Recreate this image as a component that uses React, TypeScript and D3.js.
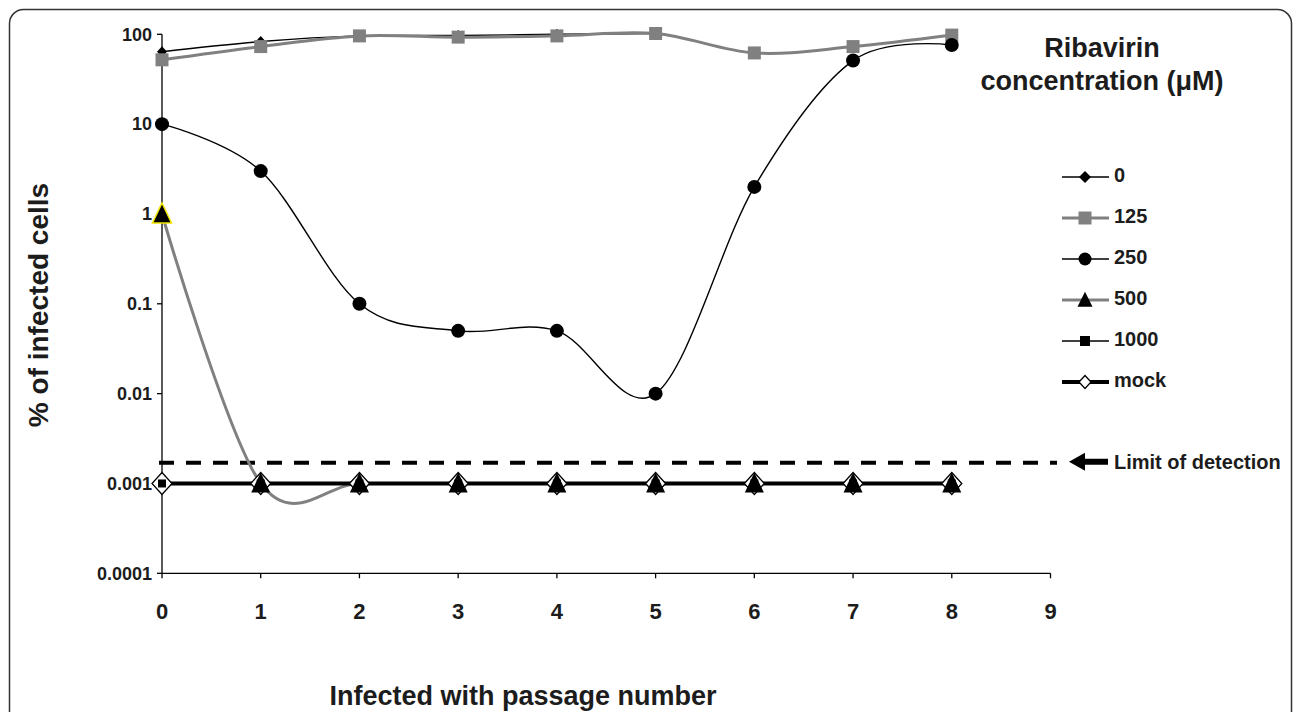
import * as d3 from "d3";

// passage numbers and % infected cells per ribavirin concentration
const passages = [0, 1, 2, 3, 4, 5, 6, 7, 8];
const conc0 = [64, 83, 96, 97, 100, 102];
const conc125 = [52, 73, 96, 93, 96, 102, 62, 73, 98];
const conc250 = [10, 3, 0.1, 0.05, 0.05, 0.01, 2, 51, 76];
const conc500 = [1, 0.001, 0.001, 0.001, 0.001, 0.001, 0.001, 0.001, 0.001];
const conc1000 = [0.001, 0.001, 0.001, 0.001, 0.001, 0.001, 0.001, 0.001, 0.001];
const mock = [0.001, 0.001, 0.001, 0.001, 0.001, 0.001, 0.001, 0.001, 0.001];
const seriesNames = ["0", "125", "250", "500", "1000", "mock"];
const seriesValues = [conc0, conc125, conc250, conc500, conc1000, mock];
const limitOfDetection = 0.0017;

const xTicks = [0, 1, 2, 3, 4, 5, 6, 7, 8, 9];
const yTicks = [0.0001, 0.001, 0.01, 0.1, 1, 10, 100];
const yTickLabels = ["0.0001", "0.001", "0.01", "0.1", "1", "10", "100"];

const W = 1293;
const H = 712;
const FONT = "Arial, 'Liberation Sans', sans-serif";
const INK = "#1c1c1c";
const GRAY = "#808080";

type Style = {
  stroke: string;
  width: number;
  marker: string;
  w: number;
  h: number;
  fill: string;
  mstroke: string;
  lw: number;
  lh: number;
};

const styles: Record<string, Style> = {
  "0": { stroke: "#000", width: 1.4, marker: "diamond", w: 10, h: 11, fill: "#000", mstroke: "none", lw: 12, lh: 12 },
  "125": { stroke: GRAY, width: 3, marker: "square", w: 13, h: 13, fill: GRAY, mstroke: "none", lw: 13, lh: 13 },
  "250": { stroke: "#000", width: 1.4, marker: "circle", w: 14, h: 14, fill: "#000", mstroke: "none", lw: 13, lh: 13 },
  "500": { stroke: GRAY, width: 3, marker: "triangle", w: 19, h: 20, fill: "#000", mstroke: "none", lw: 15, lh: 15 },
  "1000": { stroke: "#000", width: 1.4, marker: "square", w: 8, h: 8, fill: "#000", mstroke: "none", lw: 10, lh: 10 },
  mock: { stroke: "#000", width: 4, marker: "diamond", w: 20, h: 22, fill: "#fff", mstroke: "#000", lw: 12, lh: 13 },
};

// draw order of the markers (as in the original figure)
const markerOrder = ["mock", "1000", "0", "125", "250", "500"];

function markerPath(kind: string, w: number, h: number) {
  if (kind === "square") return `M${-w / 2},${-h / 2}h${w}v${h}h${-w}Z`;
  if (kind === "diamond") return `M0,${-h / 2}L${w / 2},0L0,${h / 2}L${-w / 2},0Z`;
  if (kind === "triangle") return `M0,${-h * 0.55}L${w / 2},${h * 0.45}L${-w / 2},${h * 0.45}Z`;
  return "";
}

function Marker({ s, cx, cy, w, h, outline }: { s: Style; cx: number; cy: number; w: number; h: number; outline?: string }) {
  if (s.marker === "circle") {
    return <ellipse cx={cx} cy={cy} rx={w / 2} ry={h / 2} fill={s.fill} />;
  }
  return (
    <path
      d={markerPath(s.marker, w, h)}
      transform={`translate(${cx},${cy})`}
      fill={s.fill}
      stroke={outline || s.mstroke}
      strokeWidth={outline ? 1.5 : 1.3}
    />
  );
}

export default function App() {
  const x = d3.scaleLinear().domain([0, 9]).range([162, 1050.5]);
  const y = d3.scaleLog().domain([0.0001, 100]).range([573.3, 34.3]);

  const line = d3
    .line<number>()
    .x((_, i) => x(passages[i]))
    .y((d) => y(d))
    .curve(d3.curveCatmullRom.alpha(0));

  const legendY = d3.scaleLinear().domain([0, 1]).range([177, 218]);
  const lodY = y(limitOfDetection);

  return (
    <svg
      width={W}
      height={H}
      style={{ position: "absolute", left: 0, top: 0, background: "#fff" }}
      fontFamily={FONT}
    >
      <rect x={9.5} y={9.5} width={1282} height={760} rx={14} fill="#fff" stroke="#333" strokeWidth={1.5} />

      {/* axes */}
      <line x1={x(0)} x2={x(0)} y1={y(100)} y2={y(0.0001)} stroke="#000" strokeWidth={1.3} />
      <line x1={x(0)} x2={x(9)} y1={y(0.0001)} y2={y(0.0001)} stroke="#000" strokeWidth={1.3} />
      {yTicks.map((t, i) => (
        <g key={"yt" + i}>
          <line x1={x(0) - 5} x2={x(0)} y1={y(t)} y2={y(t)} stroke="#000" strokeWidth={1.3} />
          <text
            x={x(0) - 10}
            y={y(t)}
            dy="0.35em"
            textAnchor="end"
            fontSize={18}
            fontWeight="bold"
            fill={INK}
          >
            {yTickLabels[i]}
          </text>
        </g>
      ))}
      {xTicks.map((t) => (
        <g key={"xt" + t}>
          <line x1={x(t)} x2={x(t)} y1={y(0.0001)} y2={y(0.0001) + 5} stroke="#000" strokeWidth={1.3} />
          <text x={x(t)} y={619} textAnchor="middle" fontSize={22} fontWeight="bold" fill={INK}>
            {t}
          </text>
        </g>
      ))}

      {/* limit of detection */}
      <line
        x1={x(0) - 3}
        x2={1057}
        y1={lodY}
        y2={lodY}
        stroke="#000"
        strokeWidth={4}
        strokeDasharray="15 12"
      />

      {/* series lines */}
      {seriesNames.map((name, k) => (
        <path
          key={"l" + name}
          d={line(seriesValues[k]) || ""}
          fill="none"
          stroke={styles[name].stroke}
          strokeWidth={styles[name].width}
          strokeLinejoin="round"
        />
      ))}

      {/* series markers */}
      {markerOrder.map((name) => {
        const k = seriesNames.indexOf(name);
        const s = styles[name];
        return (
          <g key={"m" + name}>
            {seriesValues[k].map((v, i) => (
              <Marker
                key={i}
                s={s}
                cx={x(passages[i])}
                cy={y(v)}
                w={s.w}
                h={s.h}
                outline={name === "500" && i === 0 ? "#f2e600" : undefined}
              />
            ))}
          </g>
        );
      })}

      {/* legend */}
      <text x={1102} y={57} textAnchor="middle" fontSize={27} fontWeight="bold" fill={INK}>
        Ribavirin
      </text>
      <text x={1102} y={90} textAnchor="middle" fontSize={27} fontWeight="bold" fill={INK}>
        concentration (μM)
      </text>
      {seriesNames.map((name, i) => {
        const s = styles[name];
        const ly = legendY(i);
        return (
          <g key={"lg" + name}>
            <line x1={1062} x2={1109} y1={ly} y2={ly} stroke={s.stroke} strokeWidth={s.width} />
            <Marker s={s} cx={1085} cy={ly} w={s.lw} h={s.lh} />
            <text x={1114} y={ly} dy="0.25em" fontSize={20} fontWeight="bold" fill={INK}>
              {name}
            </text>
          </g>
        );
      })}
      <path d={`M1069,${lodY - 1}l16,-9v6h23v6h-23v6Z`} fill="#000" />
      <text x={1114} y={lodY - 1} dy="0.35em" fontSize={20} fontWeight="bold" fill={INK}>
        Limit of detection
      </text>

      {/* axis titles */}
      <text
        transform={`translate(48,305) rotate(-90)`}
        textAnchor="middle"
        fontSize={28}
        fontWeight="bold"
        fill={INK}
      >
        % of infected cells
      </text>
      <text x={523} y={705} textAnchor="middle" fontSize={27} fontWeight="bold" fill={INK}>
        Infected with passage number
      </text>
    </svg>
  );
}
